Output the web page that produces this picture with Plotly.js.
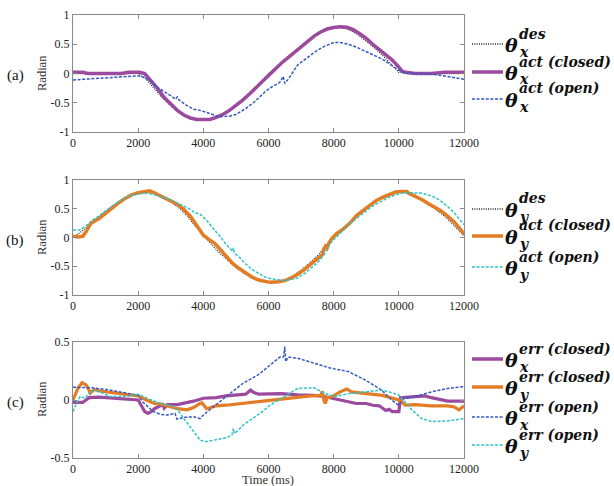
<!DOCTYPE html>
<html><head><meta charset="utf-8">
<script src="https://cdn.plot.ly/plotly-3.0.1.min.js"></script>
<style>html,body{margin:0;padding:0;background:#fff}#plot{width:614px;height:486px}</style>
</head><body><div id="plot"></div>
<script>
// ---------- data ----------
// panel (a)
const tDes = [0,250,500,750,1000,1250,1500,1750,2000,2250,2500,2750,3000,3250,3500,3750,4000,4250,4500,4750,5000,5250,5500,5750,6000,6250,6500,6750,7000,7250,7500,7750,8000,8250,8500,8750,9000,9250,9500,9750,10000,10250,10500,10750,11000,11250,11500,11750,12000];
const desX = [0,0,0,0,0,0,0,0,0,-0.10,-0.26,-0.42,-0.55,-0.66,-0.74,-0.78,-0.79,-0.77,-0.72,-0.64,-0.54,-0.42,-0.29,-0.15,0.0,0.12,0.24,0.36,0.47,0.58,0.68,0.75,0.79,0.79,0.74,0.66,0.55,0.44,0.31,0.17,0.02,0,0,0,0,0,0,0,0];
const tActXcl = [0,300,450,600,1500,1700,2050,2200,2400,2600,2800,3000,3200,3400,3600,3800,4000,4200,4400,4600,4800,5000,5200,5400,5600,5800,6000,6200,6400,6600,6800,7000,7200,7400,7600,7800,8000,8200,8400,8600,8800,9000,9200,9400,9600,9800,10000,10100,10200,10500,11000,11200,11400,12000];
const actXcl = [0.02,0.02,0.0,0.0,0.0,0.02,0.02,0.0,-0.12,-0.26,-0.41,-0.53,-0.63,-0.71,-0.76,-0.785,-0.79,-0.785,-0.75,-0.70,-0.63,-0.55,-0.46,-0.36,-0.25,-0.13,-0.02,0.09,0.18,0.27,0.36,0.45,0.55,0.64,0.71,0.76,0.785,0.80,0.79,0.75,0.68,0.60,0.50,0.41,0.32,0.23,0.11,0.04,0.02,0.0,0.0,0.01,0.02,0.02];
const tActXop = [0,1000,1800,2000,2200,2400,2600,2700,2800,3000,3150,3200,3250,3500,3700,3900,4100,4300,4500,4800,5000,5300,5600,5900,6100,6350,6450,6500,6600,6900,7200,7450,7700,8000,8200,8450,8700,8970,9200,9475,9700,9985,10190,11010,11500,12000];
const actXop = [-0.11,-0.08,-0.05,-0.04,-0.07,-0.14,-0.24,-0.28,-0.31,-0.38,-0.44,-0.40,-0.45,-0.55,-0.61,-0.63,-0.67,-0.71,-0.74,-0.73,-0.70,-0.60,-0.47,-0.31,-0.23,-0.15,-0.05,-0.17,-0.10,0.15,0.28,0.38,0.46,0.53,0.53,0.50,0.45,0.38,0.32,0.25,0.17,0.06,0.01,-0.01,-0.05,-0.10];
// panel (b)
const desY = [0,0.10,0.22,0.34,0.45,0.56,0.66,0.73,0.78,0.79,0.76,0.70,0.62,0.52,0.38,0.20,0.03,-0.12,-0.27,-0.40,-0.52,-0.62,-0.71,-0.76,-0.79,-0.79,-0.74,-0.67,-0.57,-0.45,-0.32,-0.16,0.02,0.14,0.26,0.38,0.50,0.60,0.69,0.75,0.79,0.79,0.74,0.64,0.54,0.44,0.32,0.18,0.03];
const tActYcl = [0,150,300,400,550,650,800,1000,1200,1400,1600,1800,2000,2200,2350,2450,2600,2800,3000,3200,3400,3600,3800,3900,4000,4100,4200,4350,4500,4700,4900,5100,5300,5500,5700,5900,6050,6300,6500,6700,6900,7100,7300,7500,7650,7700,7750,7800,7850,7950,8100,8300,8500,8700,8900,9100,9300,9500,9700,9900,10100,10250,10300,10500,10700,10900,11100,11300,11500,11700,11850,12000];
const actYcl = [0.02,0.01,0.02,0.10,0.25,0.28,0.33,0.42,0.52,0.60,0.68,0.74,0.78,0.80,0.81,0.79,0.75,0.69,0.64,0.58,0.49,0.37,0.21,0.12,0.04,0.0,-0.05,-0.10,-0.20,-0.34,-0.45,-0.54,-0.62,-0.69,-0.74,-0.77,-0.78,-0.77,-0.75,-0.70,-0.64,-0.56,-0.47,-0.37,-0.30,-0.20,-0.15,-0.18,-0.10,-0.01,0.07,0.15,0.25,0.38,0.47,0.56,0.64,0.70,0.75,0.79,0.80,0.80,0.77,0.72,0.66,0.59,0.53,0.46,0.37,0.27,0.17,0.06];
const tActYop = [0,200,400,600,800,1000,1200,1400,1600,1800,2000,2200,2400,2600,2800,3000,3200,3400,3600,3750,3850,3950,4100,4300,4500,4700,4900,4920,4950,5100,5300,5500,5700,5900,6100,6300,6500,6700,6900,7100,7300,7500,7700,7900,8100,8300,8500,8700,8900,9100,9300,9500,9700,9900,10100,10300,10500,10700,10900,11100,11300,11500,11700,11900,12000];
const actYop = [0.13,0.13,0.20,0.30,0.38,0.47,0.55,0.62,0.69,0.74,0.76,0.77,0.76,0.73,0.70,0.66,0.60,0.55,0.49,0.42,0.42,0.38,0.30,0.16,0.03,-0.12,-0.24,-0.18,-0.27,-0.34,-0.46,-0.56,-0.63,-0.69,-0.72,-0.74,-0.75,-0.73,-0.70,-0.63,-0.54,-0.44,-0.30,-0.10,0.02,0.13,0.24,0.33,0.42,0.51,0.58,0.64,0.70,0.74,0.77,0.78,0.78,0.77,0.74,0.70,0.63,0.54,0.43,0.30,0.22];
// panel (c)
const tErrXcl = [0,300,400,500,800,1200,1600,2000,2100,2200,2300,2400,2500,2600,2750,2800,2900,3200,3400,3700,4000,4400,4700,5000,5300,5450,5550,5700,6000,6400,6900,7400,7700,7950,8200,8450,8700,9000,9200,9400,9600,9700,9800,10000,10050,10300,10800,11000,11500,12000];
const errXcl = [-0.02,-0.02,0.0,0.02,0.025,0.015,0.01,0.0,-0.05,-0.10,-0.115,-0.10,-0.075,-0.06,-0.04,-0.07,-0.04,-0.04,-0.03,-0.01,0.015,0.02,0.035,0.045,0.05,0.085,0.065,0.05,0.055,0.055,0.045,0.04,0.03,0.015,0.0,-0.015,-0.03,-0.03,-0.045,-0.05,-0.09,-0.08,-0.10,-0.10,0.02,0.025,0.035,0.02,-0.01,-0.01];
const tErrYcl = [0,150,280,400,450,530,650,800,1150,1650,2000,2250,2500,2700,3000,3200,3500,3700,3900,3960,4100,4400,4700,5200,5700,6050,6500,6900,7300,7600,7650,7700,7740,7800,7950,8200,8400,8550,8800,9000,9500,9800,10000,10200,10500,11000,11500,11700,11850,12000];
const errYcl = [0.0,0.10,0.15,0.13,0.11,0.06,0.09,0.08,0.065,0.05,0.035,0.0,-0.03,-0.035,-0.06,-0.075,-0.085,-0.065,-0.03,-0.025,-0.075,-0.05,-0.045,-0.03,-0.01,0.0,0.015,0.025,0.035,0.04,0.075,0.0,-0.03,0.02,0.03,0.07,0.095,0.07,0.065,0.055,0.04,0.02,0.0,-0.045,-0.04,-0.05,-0.05,-0.06,-0.085,-0.05];
const tErrXop = [0,600,1150,1650,2000,2150,2300,2470,2700,2900,3130,3190,3400,3700,3900,4000,4300,4700,5200,5700,6050,6200,6350,6460,6500,6530,6600,6900,7400,7900,8450,8950,9450,9780,9990,10150,10500,11000,11500,12000];
const errXop = [0.11,0.105,0.085,0.06,0.04,-0.02,-0.06,-0.10,-0.125,-0.13,-0.115,-0.165,-0.15,-0.145,-0.16,-0.13,-0.06,0.03,0.14,0.22,0.30,0.33,0.37,0.37,0.46,0.33,0.37,0.36,0.32,0.275,0.245,0.175,0.09,0.0,-0.045,0.01,0.03,0.07,0.10,0.115];
const tErrYop = [0,100,220,370,530,640,900,1140,1650,2000,2270,2680,3090,3250,3400,3700,3900,4060,4300,4720,4880,4920,4960,5230,5740,6050,6400,6900,7400,7740,8040,8450,8960,9470,9700,9990,10200,10400,10700,11000,11500,12000];
const errYop = [-0.10,-0.03,0.03,0.015,0.07,0.085,0.06,0.03,0.03,0.05,0.015,-0.03,-0.055,-0.10,-0.16,-0.27,-0.345,-0.36,-0.345,-0.325,-0.30,-0.245,-0.29,-0.215,-0.115,-0.045,0.015,0.10,0.105,0.055,0.03,0.055,0.07,0.085,0.07,0.045,-0.02,-0.085,-0.16,-0.185,-0.18,-0.16];

const xTicks = [0,2000,4000,6000,8000,10000,12000];
const xTickText = ['0','2000','4000','6000','8000','10000','12000'];
const yTicksAB = [-1,-0.5,0,0.5,1];
const yTickTextAB = ['-1','-0.5','0','0.5','1'];
const yTicksC = [-0.5,0,0.5];
const yTickTextC = ['-0.5','0','0.5'];
const panelLabels = ['(a)','(b)','(c)'];
const yTitle = 'Radian';
const xTitle = 'Time (ms)';

// ---------- styling ----------
const PURPLE = '#9B4A9E', ORANGE = '#E47C24', BLUE = '#3558C4', CYAN = '#2EC3C6', BLACK = '#222222';
const ML=73, MR=150, MT=15, MB=28, W=614-ML-MR, H=486-MT-MB;
const px = p => (p-ML)/W, py = p => 1-(p-MT)/H;
const dotted = {color:BLACK, width:1.3, dash:'1px,1.3px'};
const dashed = c => ({color:c, width:1.5, dash:'3px,1.6px'});

const traces = [
  {x:tDes, y:desX, xaxis:'x', yaxis:'y', mode:'lines', line:dotted},
  {x:tActXcl, y:actXcl, xaxis:'x', yaxis:'y', mode:'lines', line:{color:PURPLE, width:3.5}},
  {x:tActXop, y:actXop, xaxis:'x', yaxis:'y', mode:'lines', line:dashed(BLUE)},
  {x:tDes, y:desY, xaxis:'x2', yaxis:'y2', mode:'lines', line:dotted},
  {x:tActYcl, y:actYcl, xaxis:'x2', yaxis:'y2', mode:'lines', line:{color:ORANGE, width:3.5}},
  {x:tActYop, y:actYop, xaxis:'x2', yaxis:'y2', mode:'lines', line:dashed(CYAN)},
  {x:tErrXcl, y:errXcl, xaxis:'x3', yaxis:'y3', mode:'lines', line:{color:PURPLE, width:3.2}},
  {x:tErrYcl, y:errYcl, xaxis:'x3', yaxis:'y3', mode:'lines', line:{color:ORANGE, width:3.2}},
  {x:tErrXop, y:errXop, xaxis:'x3', yaxis:'y3', mode:'lines', line:dashed(BLUE)},
  {x:tErrYop, y:errYop, xaxis:'x3', yaxis:'y3', mode:'lines', line:dashed(CYAN)}
];

const GRAY = '#8a8a8a';
const serif = 'Liberation Serif';
const tickFont = {family:serif, size:12, color:'#222'};
function xa(anchor){return {anchor:anchor, domain:[0,1], range:[0,12000], tickvals:xTicks, ticktext:xTickText,
  ticks:'inside', ticklen:4, tickcolor:GRAY, showline:true, linecolor:GRAY, linewidth:1, mirror:'ticks',
  showgrid:false, zeroline:false, tickfont:tickFont, fixedrange:true};}
function ya(anchor, dom, rng, tv, tt){return {anchor:anchor, domain:dom, range:rng, tickvals:tv, ticktext:tt,
  ticks:'inside', ticklen:4, tickcolor:GRAY, showline:true, linecolor:GRAY, linewidth:1, mirror:'ticks',
  showgrid:false, zeroline:false, tickfont:tickFont, fixedrange:true};}

const annotations = [];
const shapes = [];
// panel labels and y titles
[[73,panelLabels[0]],[237,panelLabels[1]],[399,panelLabels[2]]].forEach(([yy,lab])=>{
  annotations.push({xref:'paper', yref:'paper', x:px(15), y:py(yy+3), text:lab, showarrow:false,
    xanchor:'center', yanchor:'middle', font:{family:serif, size:15, color:'#111'}});
  annotations.push({xref:'paper', yref:'paper', x:px(42), y:py(yy), text:yTitle, showarrow:false, textangle:-90,
    xanchor:'center', yanchor:'middle', font:{family:serif, size:12.5, color:'#333'}});
});
annotations.push({xref:'paper', yref:'paper', x:px(268), y:py(480), text:xTitle, showarrow:false,
  xanchor:'center', yanchor:'middle', font:{family:serif, size:12.5, color:'#333'}});

// legends (drawn manually to reproduce math labels)
const legFont = 'DejaVu Serif';
function legend(yLine, line, sup, sub){
  shapes.push({type:'line', xref:'paper', yref:'paper', x0:px(472), x1:px(503), y0:py(yLine), y1:py(yLine), line:line});
  annotations.push({xref:'paper', yref:'paper', x:px(504), y:py(yLine+1), text:'<b><i>θ</i></b>', showarrow:false,
    borderpad:0, xanchor:'left', yanchor:'middle', font:{family:legFont, size:19, color:'#111'}});
  annotations.push({xref:'paper', yref:'paper', x:px(518), y:py(yLine-10.5), text:'<b><i>'+sup+'</i></b>', showarrow:false,
    borderpad:0, xanchor:'left', yanchor:'middle', font:{family:legFont, size:14, color:'#111'}});
  annotations.push({xref:'paper', yref:'paper', x:px(518), y:py(yLine+7.5), text:'<b><i>'+sub+'</i></b>', showarrow:false,
    borderpad:0, xanchor:'left', yanchor:'middle', font:{family:legFont, size:14, color:'#111'}});
}
const legendSup = ['des','act (closed)','act (open)'];
const legendSupErr = ['err (closed)','err (closed)','err (open)','err (open)'];
legend(44, {color:BLACK, width:1.3, dash:'1px,1.3px'}, legendSup[0], 'x');
legend(72, {color:PURPLE, width:3.5}, legendSup[1], 'x');
legend(99, {color:BLUE, width:1.5, dash:'3px,1.6px'}, legendSup[2], 'x');
legend(209, {color:BLACK, width:1.3, dash:'1px,1.3px'}, legendSup[0], 'y');
legend(236, {color:ORANGE, width:3.5}, legendSup[1], 'y');
legend(267, {color:CYAN, width:1.5, dash:'3px,1.6px'}, legendSup[2], 'y');
legend(359, {color:PURPLE, width:3.5}, legendSupErr[0], 'x');
legend(387, {color:ORANGE, width:3.5}, legendSupErr[1], 'y');
legend(417, {color:BLUE, width:1.5, dash:'3px,1.6px'}, legendSupErr[2], 'x');
legend(445, {color:CYAN, width:1.5, dash:'3px,1.6px'}, legendSupErr[3], 'y');

const layout = {
  width:614, height:486, margin:{l:ML, r:MR, t:MT, b:MB}, showlegend:false,
  paper_bgcolor:'#fff', plot_bgcolor:'#fff',
  xaxis:xa('y'), xaxis2:xa('y2'), xaxis3:xa('y3'),
  yaxis:ya('x',[py(132),1],[-1,1],yTicksAB,yTickTextAB),
  yaxis2:ya('x2',[py(295),py(180)],[-1,1],yTicksAB,yTickTextAB),
  yaxis3:ya('x3',[0,py(342)],[-0.5,0.5],yTicksC,yTickTextC),
  annotations:annotations, shapes:shapes
};
Plotly.newPlot('plot', traces, layout, {staticPlot:true, displayModeBar:false});
</script></body></html>
